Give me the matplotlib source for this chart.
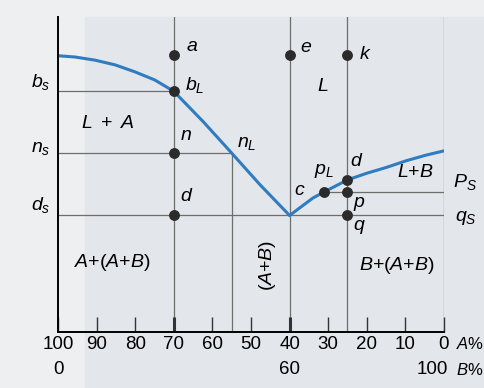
import matplotlib
matplotlib.use("Agg")
import matplotlib.pyplot as plt
from matplotlib.patches import Rectangle

plt.rcParams['font.family'] = ['Liberation Sans', 'DejaVu Sans']
plt.rcParams['mathtext.fontset'] = 'custom'
plt.rcParams['mathtext.rm'] = 'Liberation Sans'
plt.rcParams['mathtext.it'] = 'Liberation Sans:italic'

# liquidus (A% , temperature in arbitrary units 0-100)
left_A = [100, 95.6, 90.4, 85.2, 80.1, 74.9, 70, 62.4, 55, 47.7, 40]
left_T = [87.7, 87.3, 86.3, 84.8, 82.6, 80, 76.4, 66.8, 56.8, 46.8, 37]
right_A = [40, 34, 31, 25, 20, 14.8, 9.7, 4.5, 0]
right_T = [37, 42.5, 44.5, 48.3, 50.4, 52.3, 54.4, 56.2, 57.5]

# alloys (vertical lines) and levels
alloys = [70, 40, 25, 0]
b_s, n_s, d_s, p_s = 76.4, 56.8, 37, 44.5
n_L_A = 55
c_A = 31
d_T = 48.3

# points: (A%, T)
points_70 = [(70, 88), (70, b_s), (70, n_s), (70, d_s)]
points_40 = [(40, 88)]
points_25 = [(25, 88), (25, d_T), (25, p_s), (25, d_s)]
point_c = (c_A, p_s)

tick_vals = [100, 90, 80, 70, 60, 50, 40, 30, 20, 10, 0]
tick_labels = [str(v) for v in tick_vals]

line_gray = '#6e6e6e'
blue = '#2f7cc0'
dot = '#2b2b2b'

fig = plt.figure(figsize=(4.85, 3.88), dpi=100)
fig.patch.set_facecolor('#eeeff0')
# scanned page shading
fig.patches.append(Rectangle((85 / 485, 0), 400 / 485, 371 / 388,
                             transform=fig.transFigure, color='#e3e6ea', zorder=-10))

ax = fig.add_axes([58 / 485, 56 / 388, 386 / 485, 315 / 388])
ax.set_facecolor('none')
ax.set_xlim(100, 0)
ax.set_ylim(0, 100)

# vertical composition lines
for a in alloys:
    ax.plot([a, a], [0, 100], color=line_gray, lw=0.9, zorder=1)
ax.plot([n_L_A, n_L_A], [0, n_s], color=line_gray, lw=0.9, zorder=1)

# horizontal tie lines
ax.plot([100, 70], [b_s, b_s], color=line_gray, lw=0.9, zorder=1)
ax.plot([100, n_L_A], [n_s, n_s], color=line_gray, lw=0.9, zorder=1)
ax.plot([100, 0], [d_s, d_s], color=line_gray, lw=0.9, zorder=1)
ax.plot([c_A, 0], [p_s, p_s], color=line_gray, lw=0.9, zorder=1)

# liquidus
ax.plot(left_A, left_T, color=blue, lw=2.2, solid_capstyle='round', solid_joinstyle='round', zorder=2)
ax.plot(right_A, right_T, color=blue, lw=2.2, solid_capstyle='round', solid_joinstyle='round', zorder=2)

# points
for pts in (points_70, points_40, points_25, [point_c]):
    ax.plot([p[0] for p in pts], [p[1] for p in pts], 'o', color=dot, ms=6.8, zorder=3)

fs = 14
# point labels
ax.text(66.8, 90.5, '$a$', fontsize=fs, va='center')
ax.text(67.1, 78.5, '$b_L$', fontsize=fs, va='center')
ax.text(68.4, 62.5, '$n$', fontsize=fs, va='center')
ax.text(53.6, 60, '$n_L$', fontsize=fs, va='center')
ax.text(68.4, 42.9, '$d$', fontsize=fs, va='center')
ax.text(37.3, 90.2, '$e$', fontsize=fs, va='center')
ax.text(22, 88, '$k$', fontsize=fs, va='center')
ax.text(38.8, 45, '$c$', fontsize=fs, va='center')
ax.text(33.8, 51, '$p_L$', fontsize=fs, va='center')
ax.text(24.4, 54, '$d$', fontsize=fs, va='center')
ax.text(23.6, 40.6, '$p$', fontsize=fs, va='center')
ax.text(23.6, 33.3, '$q$', fontsize=fs, va='center')

# region labels
ax.text(87, 66.3, r'$L\ +\ A$', fontsize=fs, ha='center', va='center')
ax.text(31.3, 77.8, '$L$', fontsize=fs, ha='center', va='center')
ax.text(7.5, 50.5, '$L$+$B$', fontsize=fs, ha='center', va='center')
ax.text(86, 22.2, '$A$+($A$+$B$)', fontsize=fs, ha='center', va='center')
ax.text(12.2, 21, '$B$+($A$+$B$)', fontsize=fs, ha='center', va='center')
ax.text(45.6, 21.3, '($A$+$B$)', fontsize=fs, ha='center', va='center', rotation=90)

# level labels on both sides
ax.text(102.1, 79.4, '$b_s$', fontsize=fs, ha='right', va='center', clip_on=False)
ax.text(102.1, 58.4, '$n_s$', fontsize=fs, ha='right', va='center', clip_on=False)
ax.text(102.1, 40.3, '$d_s$', fontsize=fs, ha='right', va='center', clip_on=False)
ax.text(-2.3, 47.6, '$P_S$', fontsize=fs, va='center', clip_on=False)
ax.text(-2.8, 36.2, '$q_S$', fontsize=fs, va='center', clip_on=False)

# bottom axis
ax.set_xticks(tick_vals)
ax.set_xticklabels(tick_labels, fontsize=13.5)
ax.set_yticks([])
ax.tick_params(axis='x', direction='in', length=11, width=1, pad=3, color='#333333')
for t in ax.xaxis.get_major_ticks():
    if t.get_loc() in (70, 40):
        t.tick1line.set_markeredgewidth(2.2)
for s in ('top', 'right'):
    ax.spines[s].set_visible(False)
ax.spines['left'].set_linewidth(1.4)
ax.spines['bottom'].set_linewidth(1.4)

ax.text(100, -12, '0', fontsize=13.5, ha='center', va='center', clip_on=False)
ax.text(40, -12, '60', fontsize=13.5, ha='center', va='center', clip_on=False)
ax.text(-1, -12, '100', fontsize=13.5, ha='right', va='center', clip_on=False)
ax.text(-3.0, -3.8, '$A$%', fontsize=12, va='center', clip_on=False)
ax.text(-3.0, -12, '$B$%', fontsize=12, va='center', clip_on=False)

fig.savefig('out.png', dpi=100, facecolor=fig.get_facecolor())
